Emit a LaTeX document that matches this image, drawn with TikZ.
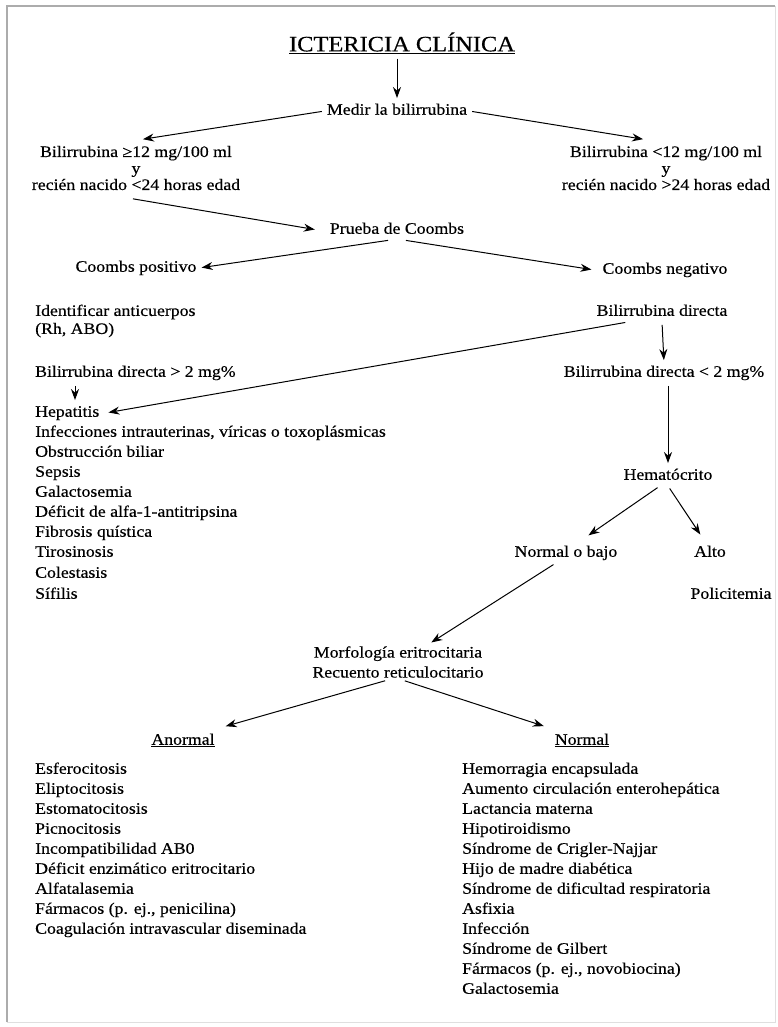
\documentclass[tikz,border=0pt]{standalone}
\usepackage{fontspec}
\setmainfont{Liberation Serif}[FakeStretch=1.11,FakeBold=0.4]
\usepackage{tikz}
\usetikzlibrary{arrows.meta,calc}
\usetikzlibrary{positioning}
\tikzset{
    txt/.style={
           inner sep=2pt,
           align=center,
           font=\fontsize{16}{16.5}\selectfont,
           },
}
\tikzset{
    item/.style={
           anchor=west,
           inner sep=2pt,
           text height=11.5pt,
           text depth=4pt,
           font=\fontsize{16}{20}\selectfont,
           },
}
\tikzset{
    flecha/.style={
           -{Stealth[length=11pt,width=8pt]},
           line width=1pt,
           shorten <=3pt, shorten >=3pt,
           },
}

\begin{document}
\begin{tikzpicture}[x=1pt,y=-1pt]
\useasboundingbox (0,0) rectangle (777,1027);
\fill[white] (0,0) rectangle (777,1027);
\draw[gray!25, line width=1pt] (775,6) -- (775,1022) -- (7,1022);
\draw[gray!65, line width=1.3pt] (7,1022) -- (7,6) -- (775,6);

\node[txt, font=\fontsize{22}{24}\selectfont] (titulo) at (402,43) {\underline{ICTERICIA CLÍNICA}};
\node[txt, text height=11.5pt, text depth=4pt] (medir) at (397,111) {Medir la bilirrubina};
\node[txt] (izq) at (136,168) {Bilirrubina ≥12 mg/100 ml\\y\\recién nacido <24 horas edad};
\node[txt] (der) at (666,168) {Bilirrubina <12 mg/100 ml\\y\\recién nacido >24 horas edad};
\node[txt, text height=11.5pt, text depth=4pt] (prueba) at (397,230) {Prueba de Coombs};
\node[txt, text height=11.5pt, text depth=4pt] (cpos) at (136,268) {Coombs positivo};
\node[txt, text height=11.5pt, text depth=4pt] (cneg) at (665,270) {Coombs negativo};
\node[anchor=west, inner sep=2pt, align=left, font=\fontsize{16}{18}\selectfont] (ident) at (33,321) {Identificar anticuerpos\\(Rh, ABO)};
\node[txt, text height=11.5pt, text depth=4pt] (bd) at (662,312) {Bilirrubina directa};
\node[item] (bdmay) at (33,373) {Bilirrubina directa > 2 mg\%};
\node[txt, text height=11.5pt, text depth=4pt] (bdmen) at (664,373) {Bilirrubina directa < 2 mg\%};

\node[item] (hep) at (33,413) {Hepatitis};
\node[item] (inf) at (33,433) {Infecciones intrauterinas, víricas o toxoplásmicas};
\node[item] (obs) at (33,453) {Obstrucción biliar};
\node[item] (sep) at (33,473) {Sepsis};
\node[item] (gal) at (33,493) {Galactosemia};
\node[item] (alfa) at (33,513) {Déficit de alfa-1-antitripsina};
\node[item] (fib) at (33,533) {Fibrosis quística};
\node[item] (tir) at (33,553) {Tirosinosis};
\node[item] (col) at (33,574) {Colestasis};
\node[item] (sif) at (33,595) {Sífilis};

\node[txt, text height=11.5pt, text depth=4pt] (hto) at (668,476) {Hematócrito};
\node[txt, text height=11.5pt, text depth=4pt] (nob) at (566,553) {Normal o bajo};
\node[txt, text height=11.5pt, text depth=4pt] (alto) at (710,553) {Alto};
\node[txt, text height=11.5pt, text depth=4pt] (poli) at (731,595) {Policitemia};
\node[txt, font=\fontsize{16}{20}\selectfont] (morf) at (398,662) {Morfología eritrocitaria\\Recuento reticulocitario};
\node[txt, text height=11.5pt, text depth=4pt] (anormal) at (183,741) {\underline{Anormal}};
\node[txt, text height=11.5pt, text depth=4pt] (normal) at (582,741) {\underline{Normal}};

\node[item] (esf) at (33,770) {Esferocitosis};
\node[item] (eli) at (33,790) {Eliptocitosis};
\node[item] (est) at (33,810) {Estomatocitosis};
\node[item] (pic) at (33,830) {Picnocitosis};
\node[item] (inc) at (33,850) {Incompatibilidad AB0};
\node[item] (enz) at (33,870) {Déficit enzimático eritrocitario};
\node[item] (alf) at (33,890) {Alfatalasemia};
\node[item] (farp) at (33,910) {Fármacos (p. ej., penicilina)};
\node[item] (coa) at (33,930) {Coagulación intravascular diseminada};

\node[item] (hem) at (460,770) {Hemorragia encapsulada};
\node[item] (aum) at (460,790) {Aumento circulación enterohepática};
\node[item] (lac) at (460,810) {Lactancia materna};
\node[item] (hip) at (460,830) {Hipotiroidismo};
\node[item] (cri) at (460,850) {Síndrome de Crigler-Najjar};
\node[item] (hijo) at (460,870) {Hijo de madre diabética};
\node[item] (resp) at (460,890) {Síndrome de dificultad respiratoria};
\node[item] (asf) at (460,910) {Asfixia};
\node[item] (infe) at (460,930) {Infección};
\node[item] (gil) at (460,950) {Síndrome de Gilbert};
\node[item] (farn) at (460,970) {Fármacos (p. ej., novobiocina)};
\node[item] (gala) at (460,990) {Galactosemia};

% flechas
\draw[flecha] (titulo.south -| medir.north) -- (medir.north);
\draw[flecha] (medir.west) -- ($(izq.north)+(4,-4)$);
\draw[flecha] (medir.east) -- ($(der.north)+(-20,-4)$);
\draw[flecha] ($(izq.south)+(-6,6)$) -- ($(prueba.west)+(-10,0)$);
\draw[flecha] ($(prueba.south)+(-6,0)$) -- (cpos.east);
\draw[flecha] ($(prueba.south)+(6,0)$) -- ($(cneg.west)+(-6,0)$);
\draw[flecha] ($(bd.south west)!0.25!(bd.south east)$) -- ($(hep.east)+(4,0)$);
\draw[flecha] (bd.south) -- (bdmen.north);
\draw[flecha] ($(bdmay.south west)+(42,0)$) -- ($(hep.north west)+(42,0)$);
\draw[flecha] (bdmen.south -| hto.north) -- (hto.north);
\draw[flecha] ($(hto.south)+(-8,0)$) -- ($(nob.north)+(20,-6)$);
\draw[flecha] (hto.south) -- ($(alto.north)+(-8,-6)$);
\draw[flecha] ($(nob.south)+(-10,0)$) -- ($(morf.north)!0.35!(morf.north east)$);
\draw[flecha] ($(morf.south)+(-10,0)$) -- ($(anormal.north east)+(6,-4)$);
\draw[flecha] ($(morf.south)+(4,0)$) -- ($(normal.north west)+(-6,-4)$);
\end{tikzpicture}
\end{document}
